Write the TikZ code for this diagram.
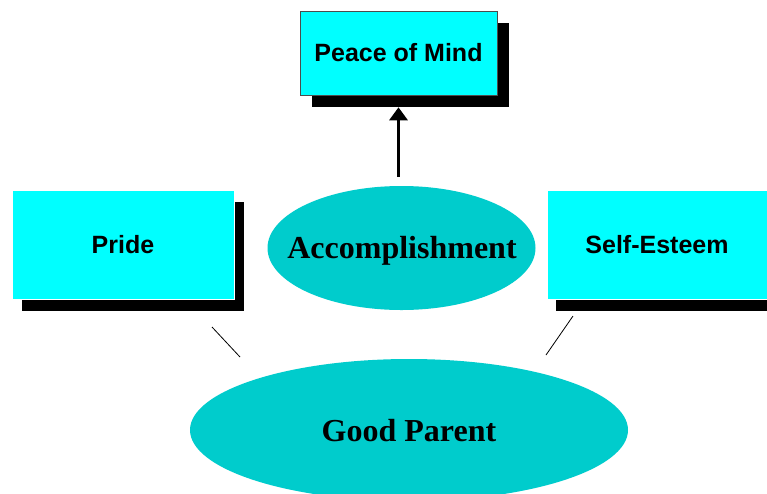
\documentclass[tikz,border=0pt]{standalone}
\usepackage{fontspec}
\setmainfont{Liberation Serif}
\setsansfont{Liberation Sans}
\usetikzlibrary{shapes.geometric,shadows,arrows.meta}
\definecolor{boxcyan}{RGB}{0,255,255}
\definecolor{ellcyan}{RGB}{0,204,204}
\tikzset{
  sbox/.style={rectangle, fill=boxcyan, inner sep=0pt, font=\sffamily\bfseries\fontsize{25}{30}\selectfont},
  ell/.style={ellipse, fill=ellcyan, inner sep=0pt},
  elltext/.style={font=\rmfamily\bfseries\fontsize{32}{38}\selectfont, inner sep=0pt},
  link/.style={draw=black, line width=0.8pt},
}
\begin{document}
\begin{tikzpicture}[x=1pt,y=-1pt]
\clip (0,0) rectangle (767,493);
\fill[white] (0,0) rectangle (767,493);
\node[sbox, draw=gray!60!black, line width=0.6pt, minimum width=197pt, minimum height=84pt,
  copy shadow={shadow xshift=12pt, shadow yshift=-12pt, fill=black, draw=none}] (peace) at (398.5,53) {Peace of Mind};
\node[sbox, draw=white, line width=0.8pt, minimum width=222pt, minimum height=109pt,
  copy shadow={shadow xshift=10pt, shadow yshift=-12pt, fill=black, draw=none}] (pride) at (123,244.5) {Pride};
\node[sbox, draw=white, line width=0.8pt, minimum width=220pt, minimum height=109pt,
  copy shadow={shadow xshift=9pt, shadow yshift=-12pt, fill=black, draw=none}] (self) at (657,244.5) {Self-Esteem};
\node[ell, minimum width=268pt, minimum height=124pt] (acc) at (401.5,248) {};
\node[elltext] (acctext) at (402,251) {Accomplishment};
\node[ell, minimum width=438pt, minimum height=142pt] (good) at (409,430) {};
\node[elltext] (goodtext) at (409,431) {Good Parent};
\draw[line width=3.5pt, -{Triangle[width=18pt,length=13pt]}] ([yshift=9pt]acc.north -| peace.south) -- ([yshift=-12pt]peace.south);
\coordinate (pl) at (212,327);
\coordinate (gl) at (240,357);
\coordinate (sr) at (573,316);
\coordinate (gr) at (546,355);
\draw[link] (pl) -- (gl);
\draw[link] (sr) -- (gr);
\end{tikzpicture}
\end{document}
